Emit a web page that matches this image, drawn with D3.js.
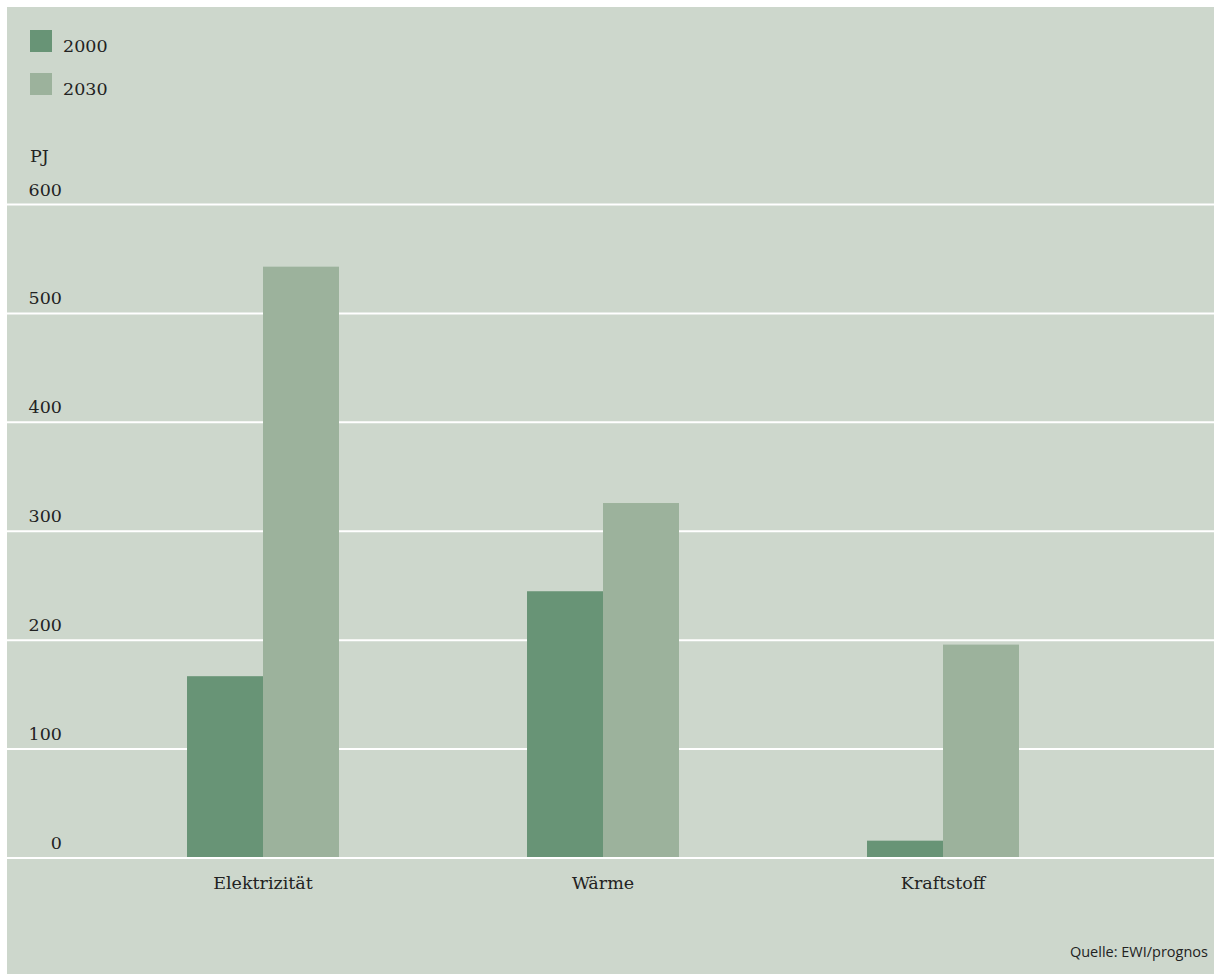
<!DOCTYPE html>
<html>
<head>
<meta charset="utf-8">
<script src="https://cdn.jsdelivr.net/npm/d3@7"></script>
<style>
  body { margin: 0; background: #fff; }
  svg { display: block; }
</style>
</head>
<body>
<svg id="chart" width="1214" height="974"></svg>
<script>
// data
const categories = ["Elektrizität", "Wärme", "Kraftstoff"];
const seriesNames = ["2000", "2030"];
const values2000 = [166, 244, 15];
const values2030 = [542, 325, 195];
const yTicks = [0, 100, 200, 300, 400, 500, 600];
const unitLabel = "PJ";
const sourceText = "Quelle: EWI/prognos";

const colors = { "2000": "#689476", "2030": "#9cb29c" };
const serif = "'DejaVu Serif', serif";

const svg = d3.select("#chart");

// background panel
svg.append("rect")
  .attr("x", 7).attr("y", 7)
  .attr("width", 1207).attr("height", 967)
  .attr("fill", "#cdd7cc");

const x = d3.scaleBand()
  .domain(categories)
  .range([93, 1113])
  .paddingInner(0.553)
  .paddingOuter(0.2765);

const xs = d3.scaleBand()
  .domain(seriesNames)
  .range([0, x.bandwidth()]);

const y = d3.scaleLinear()
  .domain([0, 600])
  .range([857, 203.5]);

// gridlines
svg.append("g")
  .selectAll("line")
  .data(yTicks)
  .join("line")
  .attr("x1", 7).attr("x2", 1214)
  .attr("y1", d => y(d) + 1).attr("y2", d => y(d) + 1)
  .attr("stroke", "#fff")
  .attr("stroke-width", 2);

// y tick labels
svg.append("g")
  .selectAll("text")
  .data(yTicks)
  .join("text")
  .attr("x", 62)
  .attr("y", d => y(d) - 8)
  .attr("text-anchor", "end")
  .attr("font-family", serif)
  .attr("font-size", 17.5)
  .attr("fill", "#222")
  .text(d => d);

// unit
svg.append("text")
  .attr("x", 30).attr("y", 162)
  .attr("font-family", serif)
  .attr("font-size", 17.5)
  .attr("fill", "#222")
  .text(unitLabel);

// bars
const rows = categories.map((c, i) => ({ cat: c, "2000": values2000[i], "2030": values2030[i] }));

const groups = svg.append("g")
  .selectAll("g")
  .data(rows)
  .join("g")
  .attr("transform", d => `translate(${x(d.cat)},0)`);

groups.selectAll("rect")
  .data(d => seriesNames.map(s => ({ s, v: d[s] })))
  .join("rect")
  .attr("x", d => xs(d.s))
  .attr("width", xs.bandwidth())
  .attr("y", d => y(d.v))
  .attr("height", d => y(0) - y(d.v))
  .attr("fill", d => colors[d.s]);

// category labels
svg.append("g")
  .selectAll("text")
  .data(categories)
  .join("text")
  .attr("x", d => x(d) + x.bandwidth() / 2)
  .attr("y", 889)
  .attr("text-anchor", "middle")
  .attr("font-family", serif)
  .attr("font-size", 17.5)
  .attr("fill", "#222")
  .text(d => d);

// legend
const legend = svg.append("g")
  .selectAll("g")
  .data(seriesNames)
  .join("g")
  .attr("transform", (d, i) => `translate(30,${30 + i * 43})`);

legend.append("rect")
  .attr("width", 22).attr("height", 22)
  .attr("fill", d => colors[d]);

legend.append("text")
  .attr("x", 33).attr("y", 22)
  .attr("font-family", serif)
  .attr("font-size", 17.5)
  .attr("fill", "#222")
  .text(d => d);

// source
svg.append("text")
  .attr("x", 1208).attr("y", 957)
  .attr("text-anchor", "end")
  .attr("font-family", "'Open Sans', sans-serif")
  .attr("font-size", 14.5)
  .attr("fill", "#222")
  .text(sourceText);
</script>
</body>
</html>
